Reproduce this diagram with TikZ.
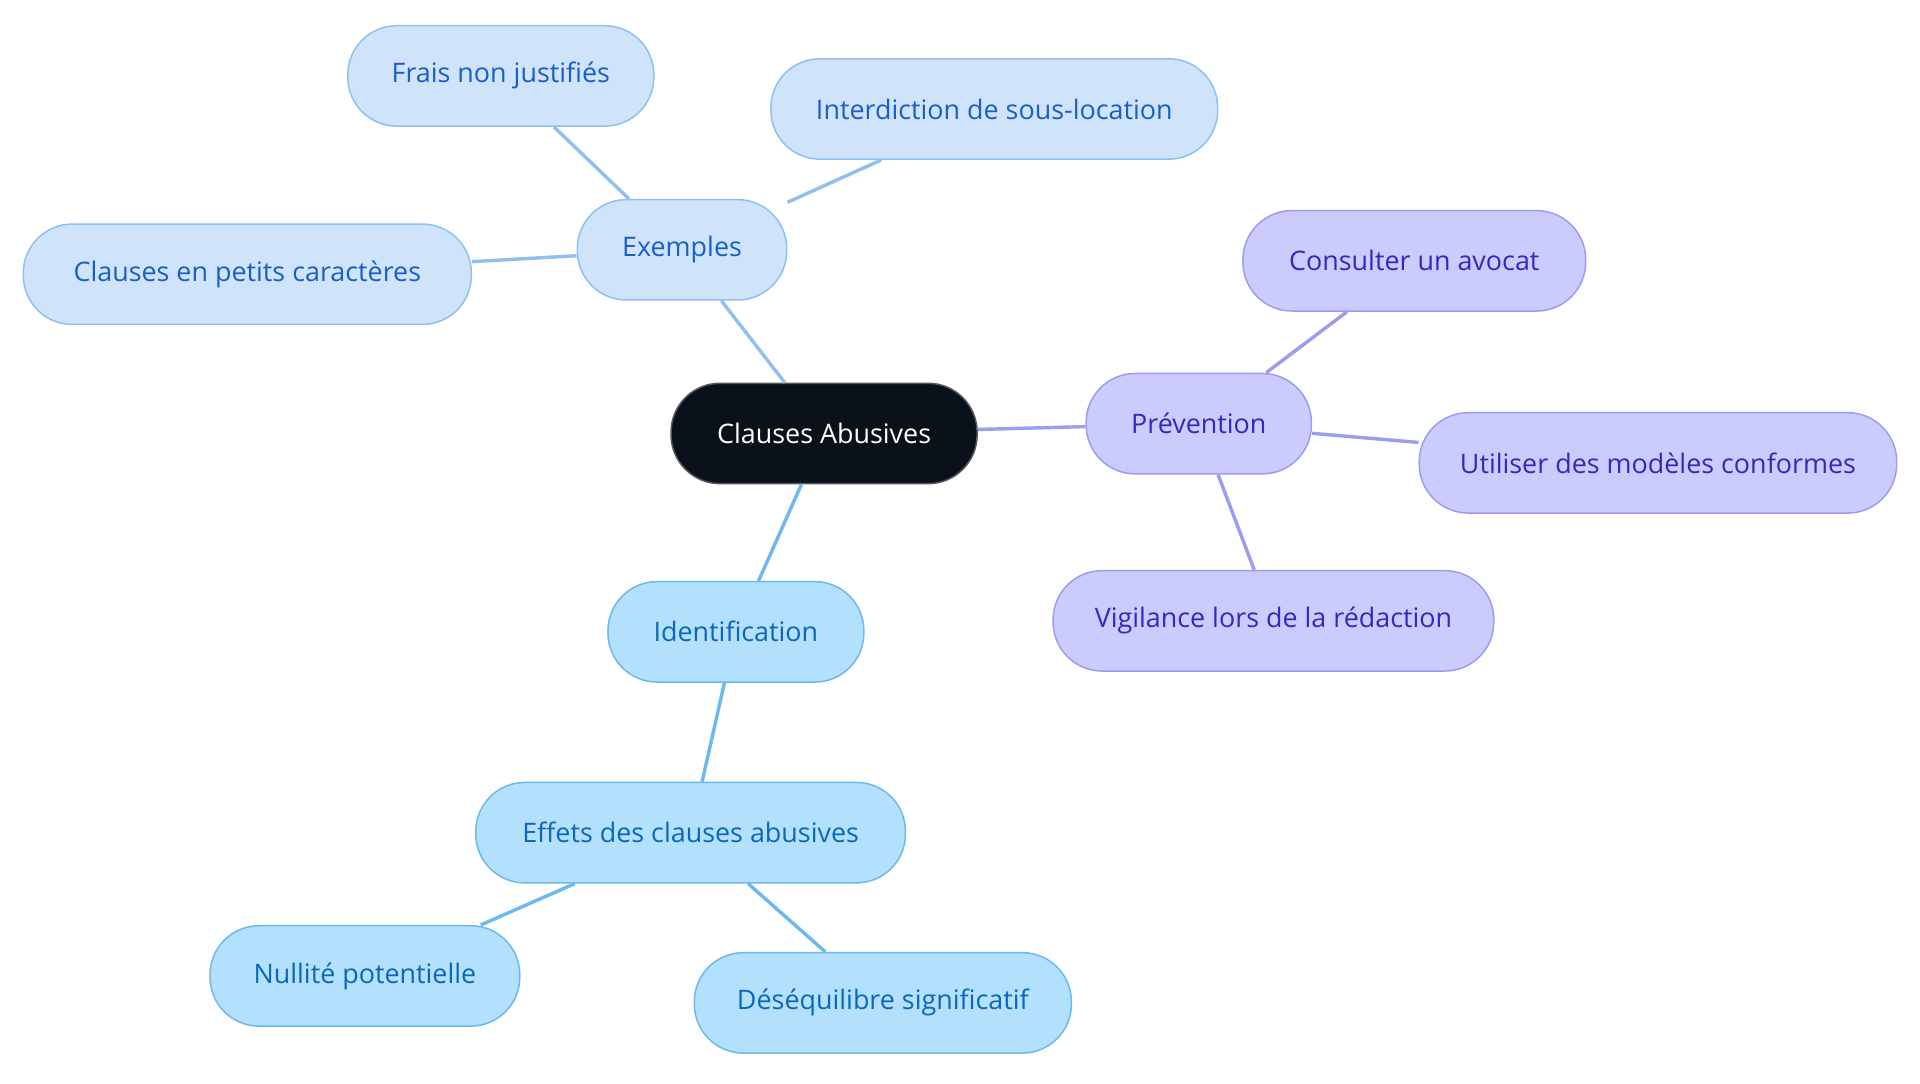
\documentclass[tikz,border=0pt]{standalone}
\usepackage{fontspec}
\setmainfont{Open Sans}
\definecolor{bfill}{HTML}{CFE3FB}\definecolor{bdraw}{HTML}{90C0F0}\definecolor{btext}{HTML}{1A5FC8}
\definecolor{cfill}{HTML}{B3E0FD}\definecolor{cdraw}{HTML}{6DB9EE}\definecolor{ctext}{HTML}{0A68BC}
\definecolor{pfill}{HTML}{CBCBFE}\definecolor{pdraw}{HTML}{9C9CF0}\definecolor{ptext}{HTML}{3528C0}
\definecolor{dark}{HTML}{0B111A}
\begin{document}
\begin{tikzpicture}[x=0.02cm,y=-0.02cm,
 box/.style={draw,line width=0.7pt,rounded corners=0.8cm,minimum height=1.64cm,font=\fontsize{12.5}{14}\selectfont,inner sep=0pt},
 bb/.style={box,fill=bfill,draw=bdraw,text=btext},
 cb/.style={box,fill=cfill,draw=cdraw,text=ctext},
 pb/.style={box,fill=pfill,draw=pdraw,text=ptext},
 bl/.style={draw=bdraw,line width=1.6pt},
 cl/.style={draw=cdraw,line width=1.6pt},
 pl/.style={draw=pdraw,line width=1.6pt}]
\useasboundingbox (0,0) rectangle (1568,885);
\node[box,fill=dark,draw=dark!70,text=white,minimum width=5cm] (c) at (673,354) {Clauses Abusives};
\node[bb,minimum width=3.42cm] (ex) at (557,204) {Exemples};
\node[bb,minimum width=5cm] (fr) at (409,62) {Frais non justifiés};
\node[bb,minimum width=7.3cm] (in) at (812,89) {Interdiction de sous-location};
\node[bb,minimum width=7.32cm] (pe) at (202,224) {Clauses en petits caractères};
\node[pb,minimum width=3.68cm] (pr) at (979,346) {Prévention};
\node[pb,minimum width=5.6cm] (co) at (1155,213) {Consulter un avocat};
\node[pb,minimum width=7.8cm] (ut) at (1354,378) {Utiliser des modèles conformes};
\node[pb,minimum width=7.2cm] (vi) at (1040,507) {Vigilance lors de la rédaction};
\node[cb,minimum width=4.18cm] (id) at (601,516) {Identification};
\node[cb,minimum width=7.02cm] (ef) at (564,680) {Effets des clauses abusives};
\node[cb,minimum width=5.06cm] (nu) at (298,797) {Nullité potentielle};
\node[cb,minimum width=6.16cm] (de) at (721,819) {Déséquilibre significatif};
\draw[bl] (c) -- (ex); \draw[bl] (ex) -- (fr); \draw[bl] (ex) -- (in); \draw[bl] (ex) -- (pe);
\draw[pl] (c) -- (pr); \draw[pl] (pr) -- (co); \draw[pl] (pr) -- (ut); \draw[pl] (pr) -- (vi);
\draw[cl] (c) -- (id); \draw[cl] (id) -- (ef); \draw[cl] (ef) -- (nu); \draw[cl] (ef) -- (de);
\end{tikzpicture}
\end{document}
